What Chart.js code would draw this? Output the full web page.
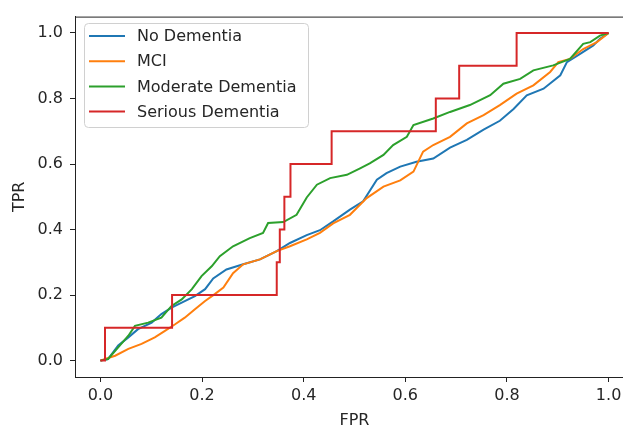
<!DOCTYPE html>
<html>
<head>
<meta charset="utf-8">
<script src="https://cdn.jsdelivr.net/npm/chart.js@4/dist/chart.umd.min.js"></script>
<style>
  html, body { margin: 0; padding: 0; background: #fff; overflow: hidden; }
  #wrap { width: 660px; height: 440px; }
</style>
</head>
<body>
<div id="wrap"><canvas id="roc"></canvas></div>
<script>
// ROC curves (FPR on x, TPR on y)
const seriesNames = ['No Dementia', 'MCI', 'Moderate Dementia', 'Serious Dementia'];
const seriesColors = ['#1f77b4', '#ff7f0e', '#2ca02c', '#d62728'];

const fprNoDementia = [0, 0.015, 0.035, 0.055, 0.074, 0.101, 0.120, 0.140, 0.160, 0.186, 0.206, 0.222, 0.248, 0.281, 0.314, 0.347, 0.373, 0.406, 0.432, 0.458, 0.491, 0.517, 0.544, 0.563, 0.590, 0.622, 0.655, 0.688, 0.721, 0.754, 0.786, 0.813, 0.839, 0.872, 0.905, 0.918, 0.944, 0.970, 0.983, 1.0];
const tprNoDementia = [0, 0.005, 0.046, 0.071, 0.096, 0.116, 0.142, 0.162, 0.177, 0.197, 0.218, 0.251, 0.278, 0.294, 0.309, 0.334, 0.359, 0.383, 0.398, 0.425, 0.461, 0.486, 0.552, 0.572, 0.592, 0.607, 0.617, 0.650, 0.674, 0.705, 0.732, 0.768, 0.810, 0.830, 0.871, 0.911, 0.936, 0.962, 0.982, 1.0];

const fprMCI = [0, 0.009, 0.029, 0.055, 0.081, 0.107, 0.127, 0.147, 0.166, 0.186, 0.206, 0.225, 0.242, 0.261, 0.281, 0.314, 0.347, 0.373, 0.406, 0.432, 0.458, 0.491, 0.524, 0.557, 0.590, 0.616, 0.635, 0.655, 0.688, 0.721, 0.754, 0.786, 0.819, 0.852, 0.885, 0.901, 0.924, 0.950, 0.977, 1.0];
const tprMCI = [0, 0.005, 0.015, 0.036, 0.051, 0.071, 0.091, 0.111, 0.131, 0.157, 0.182, 0.203, 0.223, 0.267, 0.294, 0.309, 0.334, 0.349, 0.370, 0.390, 0.419, 0.445, 0.496, 0.531, 0.550, 0.577, 0.638, 0.658, 0.683, 0.724, 0.749, 0.780, 0.815, 0.840, 0.881, 0.911, 0.921, 0.951, 0.972, 1.0];

const fprModerate = [0, 0.015, 0.038, 0.055, 0.068, 0.094, 0.120, 0.140, 0.160, 0.180, 0.199, 0.219, 0.235, 0.261, 0.294, 0.320, 0.330, 0.360, 0.386, 0.406, 0.426, 0.452, 0.485, 0.511, 0.530, 0.557, 0.576, 0.603, 0.616, 0.655, 0.688, 0.727, 0.767, 0.793, 0.826, 0.852, 0.891, 0.924, 0.950, 0.964, 0.983, 1.0];
const tprModerate = [0, 0.005, 0.046, 0.076, 0.106, 0.116, 0.131, 0.167, 0.187, 0.218, 0.258, 0.288, 0.319, 0.349, 0.374, 0.390, 0.420, 0.423, 0.445, 0.498, 0.537, 0.557, 0.567, 0.587, 0.602, 0.628, 0.658, 0.683, 0.719, 0.739, 0.759, 0.780, 0.810, 0.845, 0.860, 0.886, 0.901, 0.921, 0.967, 0.972, 0.992, 1.0];

const fprSerious = [0, 0.009, 0.009, 0.141, 0.141, 0.347, 0.347, 0.353, 0.353, 0.362, 0.362, 0.374, 0.374, 0.455, 0.455, 0.660, 0.660, 0.706, 0.706, 0.819, 0.819, 1.0];
const tprSerious = [0, 0, 0.1, 0.1, 0.2, 0.2, 0.3, 0.3, 0.4, 0.4, 0.5, 0.5, 0.6, 0.6, 0.7, 0.7, 0.8, 0.8, 0.9, 0.9, 1.0, 1.0];

const tickValues = [0, 0.2, 0.4, 0.6, 0.8, 1.0];

const fprList = [fprNoDementia, fprMCI, fprModerate, fprSerious];
const tprList = [tprNoDementia, tprMCI, tprModerate, tprSerious];

const FONT = 'DejaVu Sans';
const TEXT = '#262626';

const datasets = seriesNames.map((name, i) => ({
  label: name,
  data: fprList[i].map((x, j) => ({ x: x, y: tprList[i][j] })),
  borderColor: seriesColors[i],
  backgroundColor: seriesColors[i],
  borderWidth: 2,
  pointRadius: 0,
  showLine: true,
  fill: false,
  tension: 0,
  order: 4 - i
}));

// box around the plot (right side is outside the window, like the picture)
const frame = {
  id: 'frame',
  afterDraw(chart) {
    const { ctx, chartArea: a } = chart;
    ctx.save();
    ctx.strokeStyle = '#222';
    ctx.lineWidth = 1;
    ctx.strokeRect(a.left + 0.5, a.top + 0.5, a.right - a.left, a.bottom - a.top);
    ctx.restore();
  }
};

// legend drawn inside the upper left corner
const innerLegend = {
  id: 'innerLegend',
  afterDraw(chart) {
    const ctx = chart.ctx;
    const x0 = 84, y0 = 23, w = 224, h = 104, r = 4;
    ctx.save();
    ctx.beginPath();
    ctx.roundRect(x0 + 0.5, y0 + 0.5, w, h, r);
    ctx.fillStyle = 'rgba(255,255,255,0.8)';
    ctx.fill();
    ctx.strokeStyle = '#d0d0d0';
    ctx.lineWidth = 1;
    ctx.stroke();
    ctx.font = '16px "' + FONT + '"';
    ctx.textBaseline = 'middle';
    chart.data.datasets.forEach((ds, i) => {
      const y = 36 + i * 25.2;
      ctx.strokeStyle = ds.borderColor;
      ctx.lineWidth = 2;
      ctx.beginPath();
      ctx.moveTo(89, y);
      ctx.lineTo(125, y);
      ctx.stroke();
      ctx.fillStyle = TEXT;
      ctx.fillText(ds.label, 137, y + 1);
    });
    ctx.restore();
  }
};

const fixedTicks = (scale) => {
  scale.ticks = tickValues.map(v => ({ value: v }));
};

new Chart(document.getElementById('roc'), {
  type: 'scatter',
  data: { datasets: datasets },
  options: {
    responsive: true,
    maintainAspectRatio: false,
    animation: false,
    layout: { padding: { left: 0, right: 26, top: 12, bottom: 0 } },
    plugins: {
      legend: { display: false },
      tooltip: { enabled: false }
    },
    scales: {
      x: {
        type: 'linear',
        min: -0.05,
        max: 1.05,
        afterBuildTicks: fixedTicks,
        afterFit: (s) => { s.height = 63; },
        grid: { drawOnChartArea: false, drawTicks: true, tickLength: 5, color: '#222' },
        border: { display: true, color: '#222', width: 1 },
        ticks: {
          color: TEXT,
          padding: 4,
          maxRotation: 0,
          font: { family: FONT, size: 16 },
          callback: (v) => Number(v).toFixed(1)
        },
        title: {
          display: true,
          text: 'FPR',
          color: TEXT,
          font: { family: FONT, size: 16 },
          padding: { top: 0, bottom: 10 }
        }
      },
      y: {
        type: 'linear',
        min: -0.05,
        max: 1.05,
        afterBuildTicks: fixedTicks,
        afterFit: (s) => { s.width = 75; },
        grid: { drawOnChartArea: false, drawTicks: true, tickLength: 5, color: '#222' },
        border: { display: true, color: '#222', width: 1 },
        ticks: {
          color: TEXT,
          padding: 7,
          font: { family: FONT, size: 16 },
          callback: (v) => Number(v).toFixed(1)
        },
        title: {
          display: true,
          text: 'TPR',
          color: TEXT,
          font: { family: FONT, size: 16 },
          padding: { top: 10, bottom: 0 }
        }
      }
    }
  },
  plugins: [frame, innerLegend]
});
</script>
</body>
</html>
